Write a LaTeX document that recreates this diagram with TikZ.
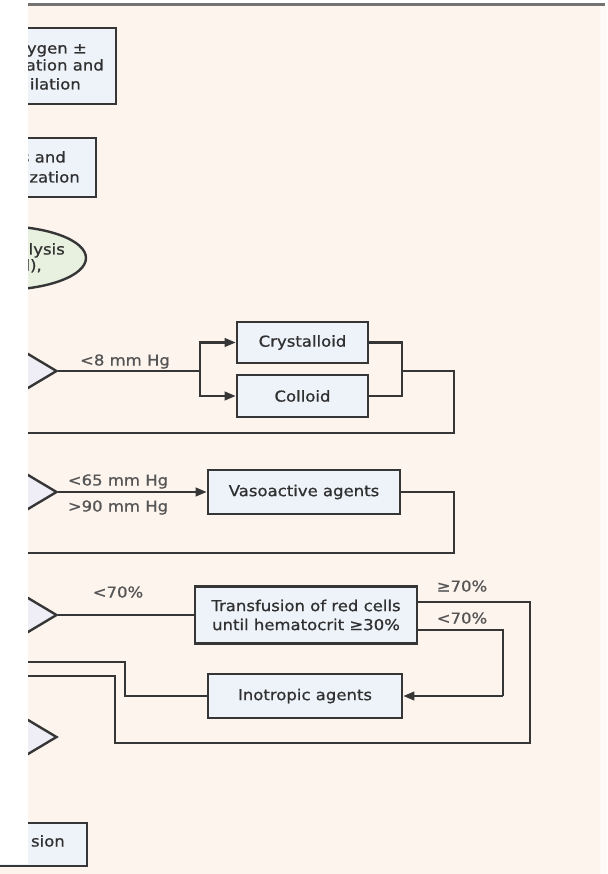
\documentclass[tikz,border=0pt]{standalone}
\usepackage{fontspec}
\setmainfont{DejaVu Sans}[FakeStretch=1.1, FakeBold=0.8]
\usetikzlibrary{shapes.geometric,arrows.meta}
\definecolor{peach}{HTML}{FDF4EE}
\definecolor{boxfill}{HTML}{EEF3FA}
\definecolor{diafill}{HTML}{EFEEF6}
\definecolor{ellfill}{HTML}{E8F0DF}
\definecolor{ink}{HTML}{363636}
\definecolor{txt}{HTML}{303030}
\definecolor{lbl}{HTML}{555555}
\newcommand\figfnt{\fontsize{15}{19}\selectfont}
\begin{document}
\begin{tikzpicture}[x=1pt,y=-1pt,
  box/.style={draw=ink, line width=2.6pt, fill=boxfill, inner sep=0pt, text=txt, font=\figfnt, align=center},
  dia/.style={diamond, draw=ink, line width=2.4pt, fill=diafill, minimum width=120pt, minimum height=72pt, inner sep=0pt},
  oval/.style={ellipse, draw=ink, line width=2.4pt, fill=ellfill, inner sep=0pt},
  conn/.style={draw=ink, line width=2.3pt, line join=miter},
  arr/.style={-{Triangle[length=11pt,width=8.5pt]}},
  lab/.style={text=lbl, font=\figfnt, inner sep=0pt, text height=10pt, text depth=3pt},
  frag/.style={text=txt, font=\figfnt, inner sep=0pt, text height=10pt, text depth=3pt, anchor=east}]
\useasboundingbox (0,0) rectangle (607,874);
% background
\fill[white] (0,0) rectangle (607,874);
\fill[peach] (0,6) rectangle (600,874);
\fill[white!55!peach] (600,6) rectangle (607,874);

% coordinates for connector routing
\coordinate (br) at (200,371);
\coordinate (j1) at (402,371);
\coordinate (c1r) at (454,371);
\coordinate (l1) at (0,433);
\coordinate (c2r) at (454,492);
\coordinate (l2) at (0,553);
\coordinate (r1) at (530,743);
\coordinate (r2) at (115,676);
\coordinate (l3) at (0,676);
\coordinate (r3) at (503,696);
\coordinate (r4) at (125,662);
\coordinate (l4) at (0,662);

% hidden-left nodes
\node[box, minimum width=200pt, minimum height=76pt] (oxy) at (16,66) {};
\node[box, minimum width=160pt, minimum height=59pt] (cath) at (16,167.5) {};
\node[oval, minimum width=172pt, minimum height=64pt] (sed) at (0,258) {};
\node[box, minimum width=160pt, minimum height=43pt] (hosp) at (7,844.5) {};

% diamonds
\node[dia] (cvp) at (-3,371) {};
\node[dia] (map) at (-3,492) {};
\node[dia] (scv) at (-3,615) {};
\node[dia] (goal) at (-3,737) {};

% treatment boxes
\node[box, minimum width=131pt, minimum height=41pt] (cry) at (302.5,342.5) {Crystalloid};
\node[box, minimum width=131pt, minimum height=42pt] (col) at (302.5,396) {Colloid};
\node[box, minimum width=192pt, minimum height=44pt] (vaso) at (304,492) {Vasoactive agents};
\node[box, minimum width=222pt, minimum height=57pt] (trans) at (306,615) {Transfusion of red cells\\until hematocrit ≥30\%};
\node[box, minimum width=194pt, minimum height=44pt] (ino) at (305,696) {Inotropic agents};

% connectors: CVP
\draw[conn] (cvp.east) -- (br);
\draw[conn,arr] (br) |- (cry.west);
\draw[conn,arr] (br) |- (col.west);
\draw[conn] (cry.east) -| (j1);
\draw[conn] (col.east) -| (j1);
\draw[conn] (j1) -- (c1r) |- (l1);
% MAP
\draw[conn,arr] (map.east) -- (vaso.west);
\draw[conn] (vaso.east) -- (c2r) |- (l2);
% ScvO2
\draw[conn] (scv.east) -- (trans.west);
\draw[conn] ([yshift=13pt]trans.east) -| (r1) -| (r2) -- (l3);
\draw[conn] ([yshift=-15pt]trans.east) -| (r3);
\draw[conn,arr] (r3) -- (ino.east);
\draw[conn] (ino.west) -| (r4) -- (l4);

% labels
\node[lab] (lcvp) at (125,362) {<8 mm Hg};
\node[lab] (lmap1) at (118,482) {<65 mm Hg};
\node[lab] (lmap2) at (118,508) {>90 mm Hg};
\node[lab] (lscv) at (118,594) {<70\%};
\node[lab] (lhi) at (462,588) {≥70\%};
\node[lab] (llo) at (462,620) {<70\%};

% white left panel (cut-off part of the page)
\fill[white] (0,0) rectangle (28,864);

% fragments of cut-off texts
\begin{scope}
\clip (28,0) rectangle (607,874);
\node[frag] (f1) at (87,50) {ygen ±};
\node[frag] (f2) at (104,67) {ation and};
\node[frag] (f3) at (81,86) {ilation};
\node[frag] (f4) at (66,159) {s and};
\node[frag] (f5) at (80,179) {zation};
\node[frag] (f6) at (65,251) {lysis};
\node[frag] (f7) at (42,267) {l),};
\node[frag] (f8) at (65,843) {sion};
\end{scope}

% top rule
\draw[line width=3pt, color=black!55] (28,5) -- (605,5);
\end{tikzpicture}
\end{document}
